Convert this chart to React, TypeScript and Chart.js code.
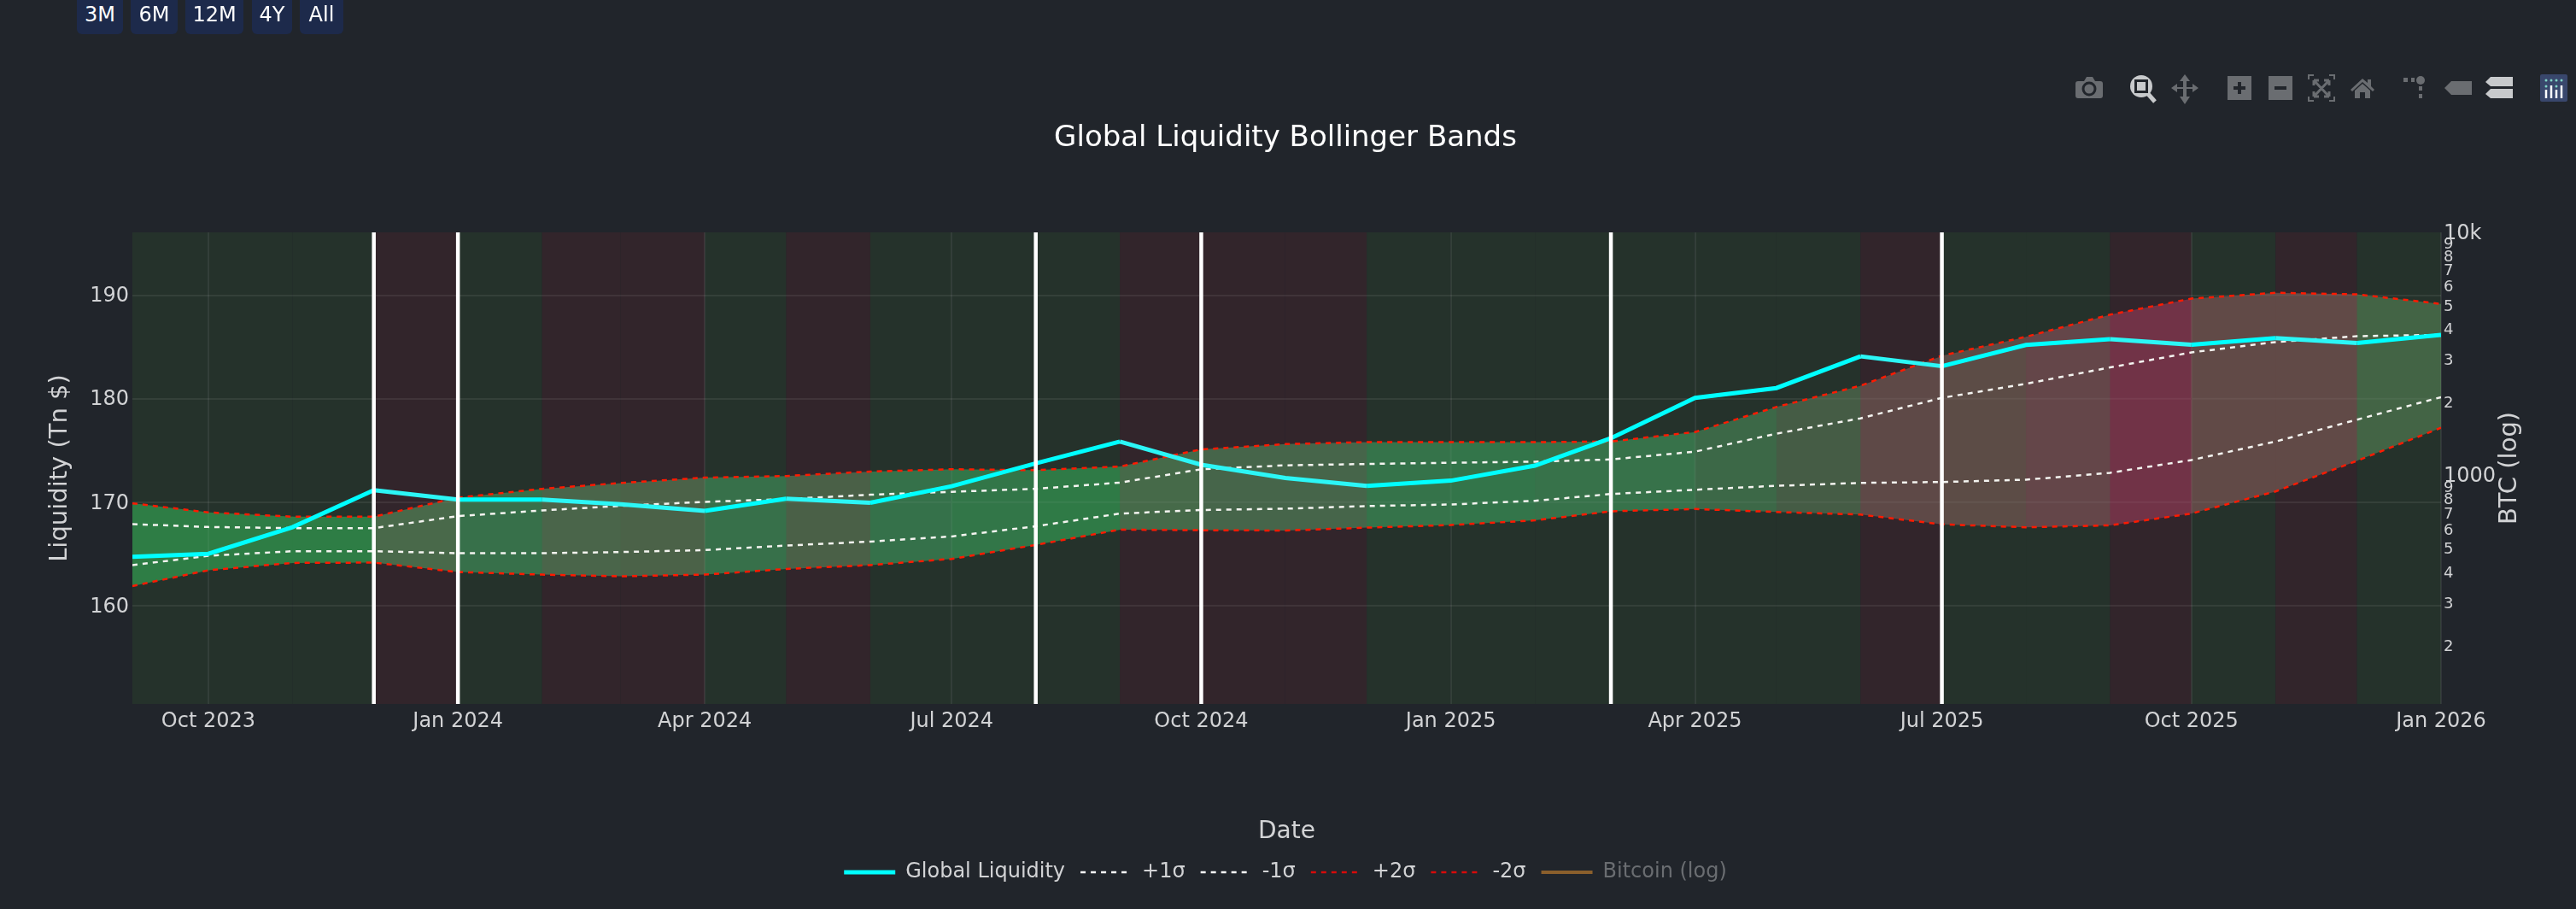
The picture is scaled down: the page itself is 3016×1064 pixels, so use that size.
import React, { useEffect, useRef } from "react";
import { Chart, registerables } from "chart.js";

Chart.register(...registerables);

// ---------- data ----------
const months = [
  "2023-09-03", "2023-10-01", "2023-11-01", "2023-12-01",
  "2024-01-01", "2024-02-01", "2024-03-01", "2024-04-01", "2024-05-01", "2024-06-01",
  "2024-07-01", "2024-08-01", "2024-09-01", "2024-10-01", "2024-11-01", "2024-12-01",
  "2025-01-01", "2025-02-01", "2025-03-01", "2025-04-01", "2025-05-01", "2025-06-01",
  "2025-07-01", "2025-08-01", "2025-09-01", "2025-10-01", "2025-11-01", "2025-12-01",
  "2026-01-01",
];
const liquidity = [
  164.71, 165.01, 167.58, 171.16, 170.25, 170.25, 169.8, 169.15, 170.33, 169.94,
  171.54, 173.75, 175.86, 173.62, 172.33, 171.58, 172.08, 173.53, 176.18, 180.08,
  181.03, 184.09, 183.14, 185.19, 185.76, 185.22, 185.85, 185.38, 186.17,
];
const plus1 = [
  167.88, 167.6, 167.49, 167.49, 168.65, 169.2, 169.64, 170.03, 170.3, 170.72,
  171.0, 171.29, 171.89, 173.18, 173.56, 173.69, 173.81, 173.91, 174.13, 174.88,
  176.62, 178.1, 180.08, 181.44, 183.02, 184.47, 185.47, 186.04, 186.17,
];
const minus1 = [
  163.91, 164.82, 165.26, 165.26, 165.07, 165.07, 165.18, 165.37, 165.81, 166.19,
  166.69, 167.67, 168.9, 169.24, 169.37, 169.62, 169.78, 170.13, 170.79, 171.2,
  171.58, 171.86, 171.95, 172.17, 172.84, 174.07, 175.86, 177.97, 180.15,
];
const plus2 = [
  169.89, 169.01, 168.6, 168.6, 170.44, 171.29, 171.85, 172.37, 172.53, 172.96,
  173.18, 173.09, 173.44, 175.1, 175.61, 175.8, 175.8, 175.8, 175.86, 176.78,
  179.2, 181.25, 184.15, 185.98, 188.12, 189.67, 190.23, 190.08, 189.16,
];
const minus2 = [
  161.9, 163.42, 164.13, 164.16, 163.25, 163.0, 162.84, 163.0, 163.55, 163.92,
  164.52, 165.87, 167.35, 167.29, 167.26, 167.54, 167.79, 168.24, 169.12, 169.34,
  169.05, 168.8, 167.86, 167.57, 167.76, 168.9, 171.04, 174.0, 177.19,
];
// one regime per month-to-month interval: G = green, R = red
const regimes = "GGGRGRRGRGGGRRRGGGGGGRGGRGRG".split("");
const bandColours = [
  "#2e7d45", "#2e7d45", "#2e7d45", "#49694a", "#37704a", "#4a654a", "#4b6248", "#37704a",
  "#4a6047", "#35714a", "#327648", "#2f7a46", "#466a49", "#46654a", "#46654a", "#35734a",
  "#33754a", "#37724a", "#37724a", "#3c6847", "#455c45", "#5e4947", "#5c4c46", "#644649",
  "#713347", "#614a47", "#614a47", "#436445",
];
const signalDates = ["2023-12-01", "2024-01-01", "2024-08-01", "2024-10-01", "2025-03-01", "2025-07-01"];
const xTicks = [
  "2023-10-01", "2024-01-01", "2024-04-01", "2024-07-01", "2024-10-01",
  "2025-01-01", "2025-04-01", "2025-07-01", "2025-10-01", "2026-01-01",
];
const monthNames = ["Jan", "Feb", "Mar", "Apr", "May", "Jun", "Jul", "Aug", "Sep", "Oct", "Nov", "Dec"];
const yTicks = [160, 170, 180, 190];
const btcTicks = [200, 300, 400, 500, 600, 700, 800, 900, 1000, 2000, 3000, 4000, 5000, 6000, 7000, 8000, 9000, 10000];
const rangeButtons = [
  { label: "3M", left: 90, width: 54 },
  { label: "6M", left: 153, width: 55 },
  { label: "12M", left: 217, width: 68 },
  { label: "4Y", left: 295, width: 47 },
  { label: "All", left: 351, width: 51 },
];

const ts = (d: string) => {
  const [y, m, day] = d.split("-").map(Number);
  return Date.UTC(y, m - 1, day);
};
const toPoints = (vals: number[]) => vals.map((v, i) => ({ x: ts(months[i]), y: v }));

const FONT = "'DejaVu Sans'";
const BG = "#21252b";
const TICK = "#d2d3d5";
const DIM = "#6a6d71";
const LIT = "#c8cacc";
const DASH = [6, 6];

const backdrop = {
  id: "backdrop",
  beforeDraw(chart: any) {
    const { ctx, chartArea: a, scales } = chart;
    ctx.save();
    ctx.fillStyle = BG;
    ctx.fillRect(0, 0, chart.width, chart.height);
    regimes.forEach((r, i) => {
      const x0 = scales.x.getPixelForValue(ts(months[i]));
      const x1 = scales.x.getPixelForValue(ts(months[i + 1]));
      ctx.fillStyle = r === "G" ? "#25322b" : "#32252b";
      ctx.fillRect(x0, a.top, x1 - x0, a.bottom - a.top);
    });
    ctx.restore();
  },
};
const band = {
  id: "band",
  beforeDatasetsDraw(chart: any) {
    const { ctx, chartArea: a, scales } = chart;
    const px = (i: number) => scales.x.getPixelForValue(ts(months[i]));
    const py = (v: number) => scales.y.getPixelForValue(v);
    ctx.save();
    bandColours.forEach((c, i) => {
      const over = i < bandColours.length - 1 ? 0.8 : 0;
      ctx.fillStyle = c;
      ctx.beginPath();
      ctx.moveTo(px(i), py(plus2[i]));
      ctx.lineTo(px(i + 1) + over, py(plus2[i + 1]));
      ctx.lineTo(px(i + 1) + over, py(minus2[i + 1]));
      ctx.lineTo(px(i), py(minus2[i]));
      ctx.closePath();
      ctx.fill();
    });
    // the grid shows faintly through the band
    ctx.beginPath();
    months.forEach((_, i) => (i === 0 ? ctx.moveTo(px(i), py(plus2[i])) : ctx.lineTo(px(i), py(plus2[i]))));
    for (let i = months.length - 1; i >= 0; i--) ctx.lineTo(px(i), py(minus2[i]));
    ctx.closePath();
    ctx.clip();
    ctx.strokeStyle = "rgba(255,255,255,0.05)";
    ctx.lineWidth = 2;
    ctx.beginPath();
    yTicks.forEach((v) => {
      ctx.moveTo(a.left, py(v));
      ctx.lineTo(a.right, py(v));
    });
    xTicks.forEach((d) => {
      const x = scales.x.getPixelForValue(ts(d));
      ctx.moveTo(x, a.top);
      ctx.lineTo(x, a.bottom);
    });
    ctx.stroke();
    ctx.restore();
  },
};
const signals = {
  id: "signals",
  afterDatasetsDraw(chart: any) {
    const { ctx, chartArea: a, scales } = chart;
    ctx.save();
    ctx.strokeStyle = "#ffffff";
    ctx.lineWidth = 4.5;
    signalDates.forEach((d) => {
      const x = scales.x.getPixelForValue(ts(d));
      ctx.beginPath();
      ctx.moveTo(x, a.top);
      ctx.lineTo(x, a.bottom);
      ctx.stroke();
    });
    ctx.restore();
  },
};
const btcTitle = {
  id: "btcTitle",
  afterDraw(chart: any) {
    const { ctx, chartArea: a } = chart;
    ctx.save();
    ctx.translate(2938, (a.top + a.bottom) / 2);
    ctx.rotate(-Math.PI / 2);
    ctx.font = `29px ${FONT}`;
    ctx.fillStyle = TICK;
    ctx.textAlign = "center";
    ctx.textBaseline = "middle";
    ctx.fillText("BTC (log)", 0, 0);
    ctx.restore();
  },
};

const line = (label: string, data: number[], color: string, width: number, dash: number[] | undefined, extra: any = {}) => ({
  label,
  data: toPoints(data),
  borderColor: color,
  borderWidth: width,
  borderDash: dash ?? [],
  pointRadius: 0,
  tension: 0,
  fill: false,
  yAxisID: "y",
  ...extra,
});

function ModeBar() {
  const d = DIM;
  const l = LIT;
  return (
    <svg width={3016} height={1064} style={{ position: "absolute", left: 0, top: 0, pointerEvents: "none" }}>
      {/* camera */}
      <path d="M2433 95h7l3-5h7l3 5h6q3 0 3 3v14q0 3-3 3h-26q-3 0-3-3v-14q0-3 3-3z" fill={d} />
      <circle cx="2446" cy="104" r="7" fill="none" stroke={BG} strokeWidth="3" />
      {/* zoom */}
      <circle cx="2507" cy="101" r="13" fill={l} />
      <rect x="2500.5" y="94.5" width="13" height="13" fill={l} stroke={BG} strokeWidth="3" />
      <path d="M2515 110l8 9" stroke={l} strokeWidth="5" />
      {/* pan */}
      <path d="M2558 87l6 8h-4v7h7v-4l7 5-7 5v-4h-7v9h4l-6 9-6-9h4v-9h-7v4l-7-5 7-5v4h7v-7h-4z" fill={d} />
      {/* plus */}
      <rect x="2608" y="89" width="28" height="28" fill={d} />
      <path d="M2622 96v14M2615 103h14" stroke={BG} strokeWidth="4" />
      {/* minus */}
      <rect x="2656" y="89" width="28" height="28" fill={d} />
      <path d="M2663 103h14" stroke={BG} strokeWidth="4" />
      {/* autoscale */}
      <path d="M2703 93v-5h6M2733 93v-5h-6M2703 113v5h6M2733 113v5h-6" fill="none" stroke={d} strokeWidth="2" />
      <path d="M2710 95l16 17M2726 95l-16 17M2709 94h6M2709 94v6M2727 94h-6M2727 94v6M2709 113h6M2709 113v-6M2727 113h-6M2727 113v-6" fill="none" stroke={d} strokeWidth="3" />
      {/* home */}
      <path d="M2752 105l14-13 6 5v-4h4v8l4 4-2 2-12-11-12 11z" fill={d} />
      <path d="M2757 106l9-8 9 8v9h-6v-7h-6v7h-6z" fill={d} />
      {/* spikes */}
      <rect x="2814" y="91" width="5" height="5" fill={d} />
      <rect x="2823" y="91" width="4" height="5" fill={d} />
      <circle cx="2834" cy="94" r="5" fill={d} />
      <rect x="2832" y="101" width="4" height="5" fill={d} />
      <rect x="2832" y="110" width="4" height="5" fill={d} />
      {/* closest */}
      <path d="M2862 103l8-8h24v16h-24z" fill={d} />
      {/* compare */}
      <path d="M2910 96l6-6h26v11h-26z" fill={l} />
      <path d="M2910 110l6-6h26v11h-26z" fill={l} />
      {/* logo */}
      <rect x="2974" y="87" width="32" height="32" rx="2" fill="#39476c" />
      {[2979, 2985, 2991, 2997].map((x) => (
        <circle key={x} cx={x + 2} cy="94" r="1.5" fill="#7fd4c6" />
      ))}
      <circle cx="2981" cy="101" r="1.5" fill="#7fd4c6" />
      <circle cx="2993" cy="101" r="1.5" fill="#7fd4c6" />
      <path d="M2981 105v10M2987 100v15M2993 105v10M2999 100v15" stroke="#fff" strokeWidth="2.5" />
    </svg>
  );
}

export default function App() {
  const ref = useRef<HTMLCanvasElement | null>(null);
  useEffect(() => {
    document.body.style.margin = "0";
    document.body.style.background = BG;
    const legendItems = [
      { text: "Global Liquidity", strokeStyle: "#00ffff", lineWidth: 5, lineDash: [], fontColor: TICK },
      { text: "+1σ", strokeStyle: "#ffffff", lineWidth: 2.5, lineDash: DASH, fontColor: TICK },
      { text: "-1σ", strokeStyle: "#ffffff", lineWidth: 2.5, lineDash: DASH, fontColor: TICK },
      { text: "+2σ", strokeStyle: "#d80a0a", lineWidth: 2.5, lineDash: DASH, fontColor: TICK },
      { text: "-2σ", strokeStyle: "#d80a0a", lineWidth: 2.5, lineDash: DASH, fontColor: TICK },
      { text: "Bitcoin (log)", strokeStyle: "#8a5f2c", lineWidth: 4, lineDash: [], fontColor: DIM },
    ];
    const chart = new Chart(ref.current as HTMLCanvasElement, {
      type: "line",
      data: {
        datasets: [
          line("Global Liquidity", liquidity, "#00ffff", 5, undefined, {
            segment: {
              borderColor: (c: any) => (regimes[c.p0DataIndex] === "R" ? "#2cf6f6" : "#00ffff"),
            },
          }),
          line("+1σ", plus1, "#f4f4f0", 2.5, DASH),
          line("-1σ", minus1, "#f4f4f0", 2.5, DASH),
          line("+2σ", plus2, "#ff1a00", 2.5, DASH),
          line("-2σ", minus2, "#ff1a00", 2.5, DASH),
          { label: "Bitcoin (log)", data: [], borderColor: "#8a5f2c", yAxisID: "y2", pointRadius: 0 },
        ],
      } as any,
      options: {
        animation: false,
        responsive: false,
        devicePixelRatio: 1,
        parsing: false,
        layout: { padding: { left: 0, right: 6, top: 0, bottom: 21 } },
        plugins: {
          tooltip: { enabled: false },
          title: {
            display: true,
            text: "Global Liquidity Bollinger Bands",
            color: "#ffffff",
            font: { family: FONT, size: 34, weight: "normal" },
            padding: { top: 142, bottom: 89.2 },
          },
          legend: {
            display: true,
            position: "bottom",
            labels: {
              font: { family: FONT, size: 24 },
              color: TICK,
              padding: 18,
              usePointStyle: true,
              pointStyleWidth: 60,
              generateLabels: () =>
                legendItems.map((it, i) => ({
                  ...it,
                  fillStyle: it.strokeStyle,
                  pointStyle: "line",
                  datasetIndex: i,
                  hidden: false,
                })),
            },
          },
        },
        scales: {
          x: {
            type: "linear",
            min: ts(months[0]),
            max: ts(months[months.length - 1]),
            afterBuildTicks: (s: any) => {
              s.ticks = xTicks.map((d) => ({ value: ts(d) }));
            },
            afterFit: (s: any) => {
              s.height = 167;
            },
            ticks: {
              autoSkip: false,
              maxRotation: 0,
              padding: 6,
              color: TICK,
              font: { family: FONT, size: 24 },
              callback: (v: any) => {
                const d = new Date(v);
                return `${monthNames[d.getUTCMonth()]} ${d.getUTCFullYear()}`;
              },
            },
            grid: { color: "rgba(255,255,255,0.07)", lineWidth: 2, drawTicks: false },
            border: { display: false },
            title: {
              display: true,
              text: "Date",
              color: TICK,
              font: { family: FONT, size: 28 },
              padding: { top: 0, bottom: 0 },
            },
          },
          y: {
            position: "left",
            min: 150.5,
            max: 196.07,
            afterBuildTicks: (s: any) => {
              s.ticks = yTicks.map((v) => ({ value: v }));
            },
            afterFit: (s: any) => {
              s.width = 155;
            },
            ticks: { padding: 4, labelOffset: 1.5, color: TICK, font: { family: FONT, size: 24 } },
            grid: { color: "rgba(255,255,255,0.07)", lineWidth: 2, drawTicks: false },
            border: { display: false },
            title: {
              display: true,
              text: "Liquidity (Tn $)",
              color: TICK,
              font: { family: FONT, size: 29 },
              padding: { top: 53, bottom: 0 },
            },
          },
          y2: {
            type: "logarithmic",
            position: "right",
            min: 115,
            max: 10000,
            afterBuildTicks: (s: any) => {
              s.ticks = btcTicks.map((v) => ({ value: v }));
            },
            afterFit: (s: any) => {
              s.width = 152;
            },
            ticks: {
              autoSkip: false,
              padding: 3,
              labelOffset: 1.5,
              color: TICK,
              font: (c: any) => ({ family: FONT, size: c.tick && (c.tick.value === 1000 || c.tick.value === 10000) ? 24 : 18 }),
              callback: (v: any) => {
                if (v === 10000) return "10k";
                if (v === 1000) return "1000";
                return String(v < 1000 ? v / 100 : v / 1000);
              },
            },
            grid: { drawOnChartArea: false, drawTicks: false },
            border: { display: false },
          },
        },
      } as any,
      plugins: [backdrop, band, signals, btcTitle],
    });
    return () => chart.destroy();
  }, []);
  return (
    <div style={{ position: "absolute", left: 0, top: 0, width: 3016, height: 1064, overflow: "hidden", background: BG }}>
      <canvas ref={ref} width={3016} height={1064} style={{ position: "absolute", left: 0, top: 0, width: 3016, height: 1064 }} />
      {rangeButtons.map((b) => (
        <div
          key={b.label}
          style={{
            position: "absolute",
            left: b.left,
            top: 0,
            width: b.width,
            height: 40,
            lineHeight: "34px",
            textAlign: "center",
            background: "#1d2a4b",
            color: "#fff",
            fontFamily: FONT,
            fontSize: 24,
            borderRadius: "0 0 6px 6px",
          }}
        >
          {b.label}
        </div>
      ))}
      <ModeBar />
    </div>
  );
}
